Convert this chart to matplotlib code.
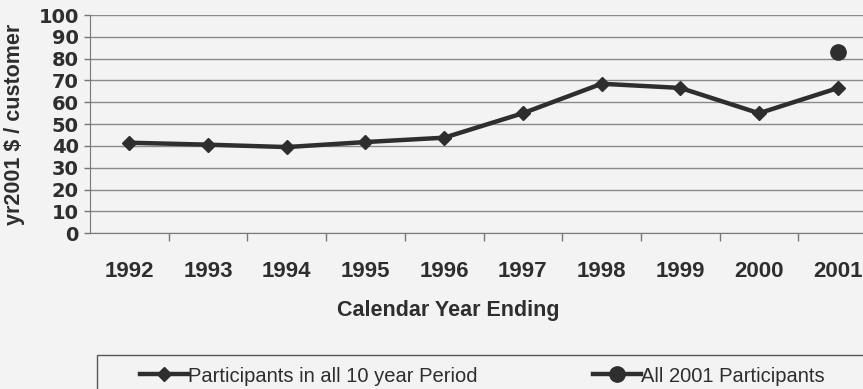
import matplotlib.pyplot as plt
from matplotlib.patches import Rectangle
import numpy as np

years = ['1992', '1993', '1994', '1995', '1996', '1997', '1998', '1999', '2000', '2001']
period_participants = [41.5, 40.6, 39.5, 41.8, 43.8, 55.0, 68.5, 66.6, 55.0, 66.5]
all_2001_participants = [83.2]

ink = '#2e2e2e'
paper = '#f3f3f3'

fig = plt.figure(figsize=(8.63, 3.89), dpi=100, facecolor=paper)
ax = fig.add_axes([0.1043, 0.4003, 0.912, 0.5611], facecolor=paper)

x = np.arange(len(years))
ax.plot(x, period_participants, color=ink, lw=3.2, marker='D', ms=7,
        label='Participants in all 10 year Period')
ax.plot([x[-1]], all_2001_participants, color=ink, lw=3.2, marker='o', ms=11,
        label='All 2001 Participants')

ax.set_xlim(-0.5, len(years) - 0.5)
ax.set_ylim(0, 100)
ax.set_yticks(range(0, 101, 10))
ax.set_yticklabels([str(v) for v in range(0, 101, 10)],
                   fontfamily='DejaVu Sans', fontweight='bold', fontsize=14, color=ink)
ax.yaxis.grid(True, color='#8a8a8a', lw=1.0)
ax.set_axisbelow(True)
ax.tick_params(axis='y', length=4, width=1, color='#777777', pad=4, direction='out')

ax.set_xticks(x)
ax.set_xticklabels(years, fontfamily='Liberation Sans', fontweight='bold', fontsize=16, color=ink)
ax.tick_params(axis='x', length=0, pad=20)
ax.set_xticks(np.arange(0.5, len(years) - 1, 1.0), minor=True)
ax.tick_params(axis='x', which='minor', length=6, width=1, color='#777777', direction='out')

for side in ['top', 'right']:
    ax.spines[side].set_visible(False)
ax.spines['left'].set_color('#777777')
ax.spines['bottom'].set_color('#777777')

ax.set_ylabel('yr2001 $ / customer', fontfamily='Liberation Sans', fontweight='bold',
              fontsize=15.5, color=ink)
ax.yaxis.set_label_coords(-0.083, 0.5)
ax.set_xlabel('Calendar Year Ending', fontfamily='Liberation Sans', fontweight='bold',
              fontsize=15.5, color=ink)
ax.xaxis.set_label_coords(0.455, -0.305)

# legend box runs off the bottom edge
fig.patches.append(Rectangle((97 / 863, -0.05), 0.92, 0.05 + 1 - 355 / 389,
                             transform=fig.transFigure, facecolor=paper,
                             edgecolor='#555555', lw=1.0))
leg = fig.legend(loc='center left', bbox_to_anchor=(140 / 863, 1 - 376 / 389),
                 ncol=2, frameon=False, handlelength=2.4, handletextpad=0.0,
                 columnspacing=5.7, borderaxespad=0, borderpad=0,
                 prop={'family': 'Liberation Sans', 'size': 14.5})
for t in leg.get_texts():
    t.set_color(ink)

fig.savefig('out.png', dpi=100, facecolor=paper)
